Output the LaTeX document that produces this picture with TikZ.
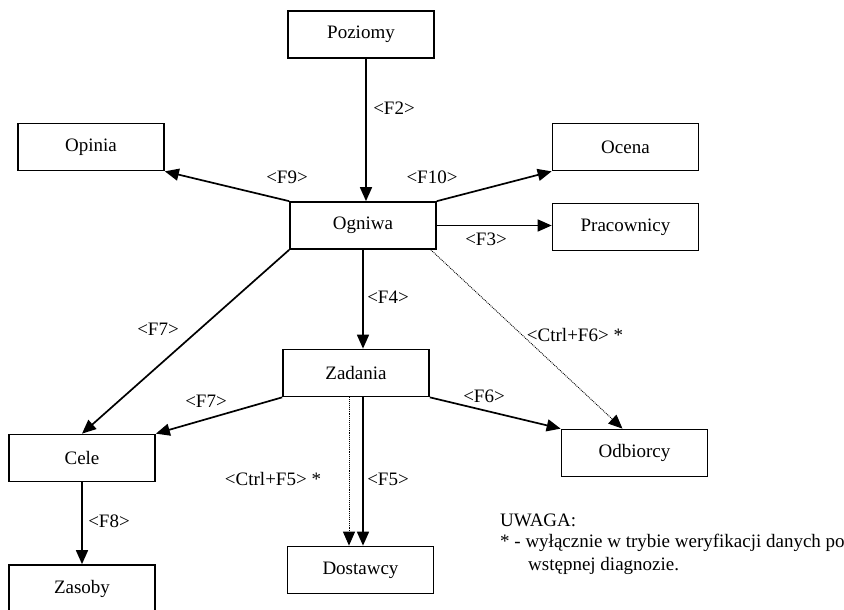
\documentclass[tikz,border=0pt]{standalone}
\usepackage{fontspec}
\setmainfont{Liberation Serif}
\usetikzlibrary{arrows.meta,calc}
\begin{document}
\begin{tikzpicture}[x=1pt,y=-1pt,
  box/.style={draw, line width=1.7pt, inner sep=0pt, minimum width=146pt, minimum height=47pt, font=\fontsize{19}{23}\selectfont},
  lbl/.style={inner sep=0pt, font=\fontsize{19}{23}\selectfont},
  arr/.style={line width=1.7pt, -{Triangle[length=14pt,width=12pt]}},
  darr/.style={line width=0.9pt, densely dotted, -{Triangle[length=14pt,width=12pt]}}]
\clip (0,0) rectangle (844,610);
\fill[white] (0,0) rectangle (844,610);
% boxes
\node[box] (poz) at (361,34.5) {Poziomy};
\node[box] (opi) at (91,147) {Opinia};
\node[box] (oce) at (625.5,147) {Ocena};
\node[box] (ogn) at (363,225.5) {Ogniwa};
\node[box] (pra) at (625.5,227) {Pracownicy};
\node[box] (zad) at (356,373) {Zadania};
\node[box] (cel) at (82,458) {Cele};
\node[box, minimum height=50pt] (zas) at (82,590) {\raisebox{7pt}{Zasoby}};
\node[box] (dos) at (360.5,570) {Dostawcy};
\node[box] (odb) at (634.5,453) {Odbiorcy};
% connectors
\draw[arr] ([xshift=3pt]ogn.north |- poz.south) -- ([xshift=3pt]ogn.north);
\draw[arr] (ogn.north west) -- (opi.south east);
\draw[arr] (ogn.north east) -- (oce.south west);
\draw[arr] (ogn.east) -- (ogn.east -| pra.west);
\draw[arr] (ogn.south west) -- (cel.north);
\draw[arr] (ogn.south) -- (ogn.south |- zad.north);
\draw[darr] ([xshift=-6pt]ogn.south east) -- ([xshift=-12pt]odb.north);
\draw[arr] (zad.south west) -- (cel.north east);
\draw[arr] (zad.south east) -- (odb.north west);
\draw[arr] ([xshift=7pt]zad.south) -- ([xshift=7pt]zad.south |- dos.north);
\draw[darr] ([xshift=-7pt]zad.south) -- ([xshift=-7pt]zad.south |- dos.north);
\draw[arr] (cel.south) -- (zas.north);
% labels
\node[lbl] (l2) at (394,108) {<F2>};
\node[lbl] (l9) at (287,177) {<F9>};
\node[lbl] (l10) at (432,177) {<F10>};
\node[lbl] (l3) at (486,239) {<F3>};
\node[lbl] (l4) at (388,297) {<F4>};
\node[lbl] (l7a) at (158,329) {<F7>};
\node[lbl] (lc6) at (575,335) {<Ctrl+F6> *};
\node[lbl] (l7b) at (206,401) {<F7>};
\node[lbl] (l6) at (484,396) {<F6>};
\node[lbl] (lc5) at (273,479) {<Ctrl+F5> *};
\node[lbl] (l5) at (388,479) {<F5>};
\node[lbl] (l8) at (109,521) {<F8>};
\node[lbl, anchor=west] (u1) at (500,520) {UWAGA:};
\node[lbl, anchor=west] (u2) at (500,543) {* - wyłącznie w trybie weryfikacji danych po};
\node[lbl, anchor=west] (u3) at (528,566) {wstępnej diagnozie.};
\end{tikzpicture}
\end{document}
